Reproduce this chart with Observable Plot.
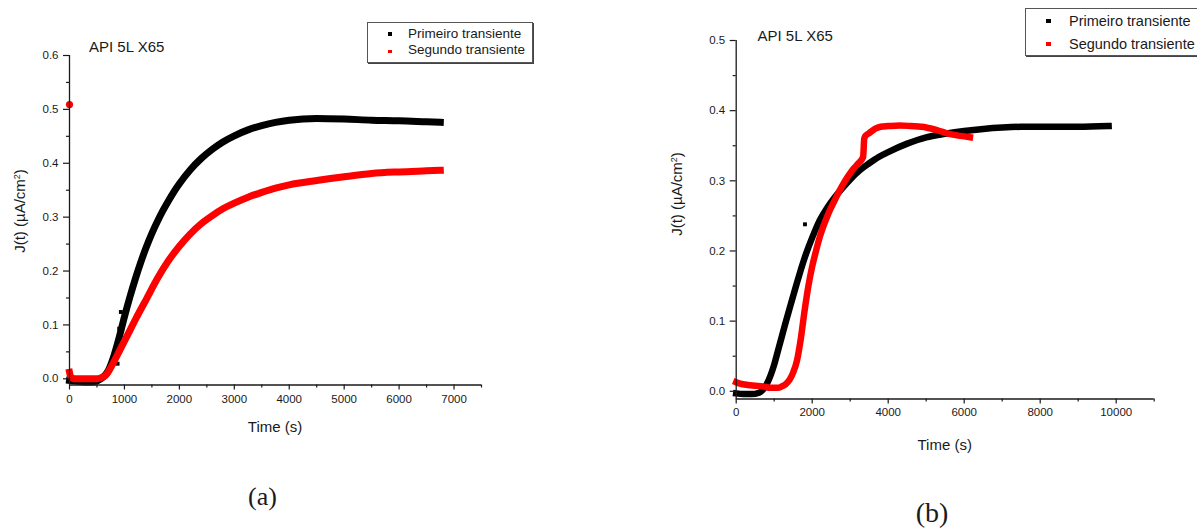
<!DOCTYPE html>
<html>
<head>
<meta charset="utf-8">
<script src="https://cdn.jsdelivr.net/npm/d3@7"></script>
<script src="https://cdn.jsdelivr.net/npm/@observablehq/plot@0.6"></script>
<style>
  html, body { margin: 0; padding: 0; background: #fff; }
  #root { position: relative; width: 1197px; height: 531px; overflow: hidden; background: #fff;
          font-family: 'Liberation Sans', Arial, sans-serif; color: #1a1a1a; }
  #root svg { position: absolute; left: 0; top: 0; }
  .t { position: absolute; white-space: nowrap; line-height: 1; }
  .c { transform: translate(-50%, -50%); }
  .rot { transform: translate(-50%, -50%) rotate(-90deg); }
  .legend { position: absolute; border: 1px solid #555; box-shadow: 1px 1px 0 #444; background: #fff; }
  .mk { position: absolute; }
  sup { font-size: 0.6em; vertical-align: 0.55em; line-height: 0; }
</style>
</head>
<body>
<div id="root"></div>
<script>
// ---------------- Data ----------------
// Panel (a) — API 5L X65
const aPrimeiroT = [0,100,200,300,400,500,600,700,800,900,1000,1100,1200,1300,1400,1500,1600,1700,1800,1900,2000,2200,2400,2600,2800,3000,3250,3500,3750,4000,4500,5000,5500,6000,6500,6750];
const aPrimeiroJ = [-0.003,-0.004,-0.005,-0.006,-0.006,-0.004,0.002,0.014,0.04,0.075,0.115,0.152,0.186,0.217,0.245,0.27,0.292,0.312,0.33,0.347,0.362,0.388,0.409,0.426,0.44,0.451,0.462,0.47,0.476,0.48,0.483,0.482,0.480,0.479,0.477,0.476];
const aSegundoT = [0,20,60,100,200,300,400,500,550,600,650,700,800,900,1000,1100,1200,1400,1600,1800,2000,2200,2400,2600,2800,3000,3250,3500,3750,4000,4500,5000,5500,6000,6500,6750];
const aSegundoJ = [0.012,0.004,0.001,0.0,0.0,0.0,0.0,0.0,0.001,0.003,0.006,0.012,0.03,0.05,0.07,0.09,0.11,0.148,0.186,0.219,0.246,0.269,0.288,0.303,0.316,0.326,0.337,0.346,0.354,0.36,0.368,0.375,0.381,0.384,0.386,0.387];
const aPrimeiroOutT = [875, 905, 935];
const aPrimeiroOutJ = [0.028, 0.093, 0.124];
const aSegundoOutT = [0];
const aSegundoOutJ = [0.509];

// Panel (b) — API 5L X65
const bPrimeiroT = [0,200,400,600,700,800,900,1000,1100,1200,1300,1400,1500,1600,1700,1800,1900,2000,2200,2400,2600,2800,3000,3250,3500,3750,4000,4500,5000,5500,6000,6500,7000,7500,8000,9000,9800];
const bPrimeiroJ = [-0.003,-0.004,-0.004,-0.002,0.002,0.01,0.022,0.038,0.058,0.078,0.098,0.117,0.136,0.155,0.173,0.19,0.205,0.219,0.244,0.262,0.277,0.29,0.302,0.315,0.325,0.334,0.341,0.353,0.362,0.367,0.371,0.374,0.376,0.377,0.377,0.377,0.378];
const bSegundoT = [0,100,300,500,700,900,1000,1100,1200,1300,1400,1500,1600,1700,1800,1900,2000,2100,2200,2300,2400,2500,2600,2700,2800,2900,3000,3100,3200,3300,3340,3370,3400,3500,3650,3800,4000,4300,4600,5000,5300,5600,5900,6150];
const bSegundoJ = [0.013,0.011,0.009,0.008,0.007,0.005,0.005,0.005,0.007,0.01,0.016,0.027,0.044,0.075,0.115,0.15,0.178,0.2,0.22,0.236,0.25,0.262,0.273,0.284,0.294,0.303,0.311,0.318,0.324,0.33,0.334,0.36,0.364,0.368,0.374,0.377,0.378,0.379,0.378,0.376,0.372,0.367,0.364,0.362];
const bPrimeiroOutT = [1810];
const bPrimeiroOutJ = [0.238];

// Axes / ticks
const aXDomain = [0, 7500], aYDomain = [-0.0115, 0.6];
const aXMajor = [0,1000,2000,3000,4000,5000,6000,7000];
const aXMinor = [500,1500,2500,3500,4500,5500,6500,7500];
const aYMajor = [0,0.1,0.2,0.3,0.4,0.5,0.6];
const aYMinor = [0.05,0.15,0.25,0.35,0.45,0.55];

const bXDomain = [0, 11000], bYDomain = [-0.011, 0.5];
const bXMajor = [0,2000,4000,6000,8000,10000];
const bXMinor = [1000,3000,5000,7000,9000,11000];
const bYMajor = [0,0.1,0.2,0.3,0.4,0.5];
const bYMinor = [0.05,0.15,0.25,0.35,0.45];

// Labels
const seriesNames = ["Primeiro transiente", "Segundo transiente"];
const seriesColors = ["#000000", "#ff0000"];
const materialLabel = "API 5L X65";
const xLabel = "Time (s)";
const panelLabels = ["(a)", "(b)"];

// ---------------- Drawing ----------------
const zipTJ = (T, J) => T.map((t, i) => ({t, j: J[i]}));
const fontSans = "'Liberation Sans', Arial, sans-serif";
const root = document.getElementById("root");

function panel(o) {
  const line = (T, J, c) => Plot.line(zipTJ(T, J), {x: "t", y: "j", stroke: c, strokeWidth: o.sw, curve: "monotone-x", strokeLinejoin: "round", strokeLinecap: "square"});
  const dots = (T, J, c, r) => Plot.dot(zipTJ(T, J), {x: "t", y: "j", fill: c, r, symbol: "square"});
  return Plot.plot({
    width: 1197, height: 531,
    marginLeft: o.ml, marginRight: o.mr, marginTop: o.mt, marginBottom: o.mb,
    x: {domain: o.xDomain},
    y: {domain: o.yDomain},
    style: {background: "transparent", fontFamily: fontSans, fontSize: "11.5px", color: "#1a1a1a", overflow: "visible"},
    marks: [
      line(o.pT, o.pJ, seriesColors[0]),
      ...(o.pOutT ? [dots(o.pOutT, o.pOutJ, seriesColors[0], 2.2)] : []),
      line(o.sT, o.sJ, seriesColors[1]),
      ...(o.sOutT ? [Plot.dot(zipTJ(o.sOutT, o.sOutJ), {x: "t", y: "j", fill: seriesColors[1], r: 3.6})] : []),
      Plot.ruleX([o.xDomain[0]], {stroke: "#1a1a1a", strokeWidth: 1.3}),
      Plot.ruleY([o.yDomain[0]], {stroke: "#1a1a1a", strokeWidth: 1.3}),
      Plot.axisX({ticks: o.xMajor, tickSize: 5, tickPadding: o.xPad, tickFormat: d3.format("d"), label: null, strokeWidth: 1.2}),
      Plot.axisX({ticks: o.xMinor, tickSize: 3, tickFormat: () => "", label: null, strokeWidth: 1.2}),
      Plot.axisY({ticks: o.yMajor, tickSize: 6, tickPadding: 5, tickFormat: d3.format(".1f"), label: null, strokeWidth: 1.2}),
      Plot.axisY({ticks: o.yMinor, tickSize: 3, tickFormat: () => "", label: null, strokeWidth: 1.2})
    ]
  });
}

root.appendChild(panel({
  ml: 69, mr: 1197 - 481, mt: 55, mb: 531 - 384.5, sw: 7, xPad: 5,
  xDomain: aXDomain, yDomain: aYDomain, xMajor: aXMajor, xMinor: aXMinor, yMajor: aYMajor, yMinor: aYMinor,
  pT: aPrimeiroT, pJ: aPrimeiroJ, sT: aSegundoT, sJ: aSegundoJ,
  pOutT: aPrimeiroOutT, pOutJ: aPrimeiroOutJ, sOutT: aSegundoOutT, sOutJ: aSegundoOutJ
}));
root.appendChild(panel({
  ml: 735.7, mr: 1197 - 1153.7, mt: 40, mb: 531 - 398.5, sw: 6.5, xPad: 4,
  xDomain: bXDomain, yDomain: bYDomain, xMajor: bXMajor, xMinor: bXMinor, yMajor: bYMajor, yMinor: bYMinor,
  pT: bPrimeiroT, pJ: bPrimeiroJ, sT: bSegundoT, sJ: bSegundoJ,
  pOutT: bPrimeiroOutT, pOutJ: bPrimeiroOutJ
}));

// ---------------- Annotations (HTML text) ----------------
function addText(html, style, cls) {
  const d = document.createElement("div");
  d.className = "t " + (cls || "");
  d.innerHTML = html;
  Object.assign(d.style, style);
  root.appendChild(d);
  return d;
}
const yLabelHtml = "J(t) (&micro;A/cm<sup>2</sup>)";

// Panel (a)
addText(materialLabel, {left: "89px", top: "39px", fontSize: "15px"});
addText(xLabel, {left: "275px", top: "426px", fontSize: "15px"}, "c");
addText(yLabelHtml, {left: "18.5px", top: "211px", fontSize: "15px"}, "rot");
addText(panelLabels[0], {left: "262.5px", top: "497px", fontSize: "26px", fontFamily: "'Liberation Serif', 'Times New Roman', serif"}, "c");

// Panel (b)
addText(materialLabel, {left: "757.5px", top: "27.5px", fontSize: "15px"});
addText(xLabel, {left: "944.7px", top: "443.5px", fontSize: "15px"}, "c");
addText(yLabelHtml, {left: "676px", top: "194px", fontSize: "15px"}, "rot");
addText(panelLabels[1], {left: "932px", top: "513px", fontSize: "28px", fontFamily: "'Liberation Serif', 'Times New Roman', serif"}, "c");

// Legends
function legend(box, rows) {
  const b = document.createElement("div");
  b.className = "legend";
  Object.assign(b.style, {left: box.x + "px", top: box.y + "px", width: box.w + "px", height: box.h + "px"});
  root.appendChild(b);
  rows.forEach((r, i) => {
    const m = document.createElement("div");
    m.className = "mk";
    Object.assign(m.style, {left: (r.mx - r.ms / 2) + "px", top: (r.my - r.ms / 2) + "px", width: r.ms + "px", height: r.ms + "px", background: seriesColors[i]});
    root.appendChild(m);
    addText(seriesNames[i], {left: r.tx + "px", top: r.ty + "px", fontSize: r.fs + "px"});
  });
}
legend({x: 367, y: 21.5, w: 163.5, h: 39}, [
  {mx: 390, my: 34, ms: 3.8, tx: 408, ty: 26.8, fs: 13.5},
  {mx: 390, my: 51.5, ms: 3.8, tx: 408, ty: 42.5, fs: 13.5}
]);
legend({x: 1025, y: 8, w: 200, h: 46}, [
  {mx: 1048.5, my: 21, ms: 4.5, tx: 1069, ty: 14, fs: 14.5},
  {mx: 1048.5, my: 44, ms: 4.5, tx: 1069, ty: 37, fs: 14.5}
]);
</script>
</body>
</html>
